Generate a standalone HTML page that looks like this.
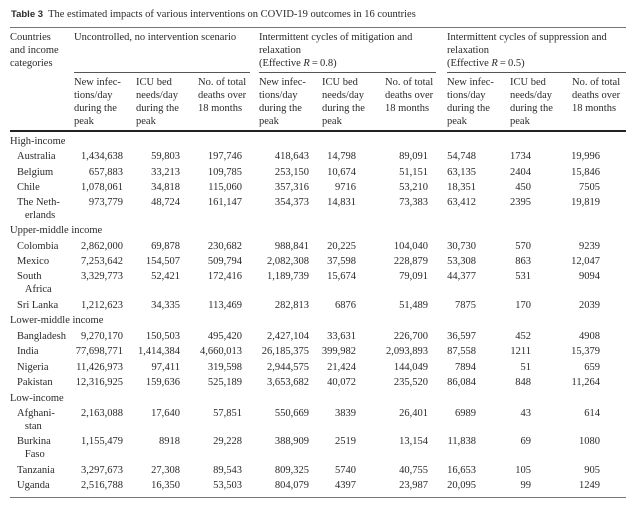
<!DOCTYPE html>
<html><head><meta charset="utf-8"><style>
body{margin:0;background:#fff;}
#p{position:relative;width:640px;height:506px;overflow:hidden;background:#fff;font-family:"Liberation Serif",serif;font-size:10.5px;color:#2a2a2a;}
#p div{position:absolute;white-space:nowrap;line-height:13px;}
.n{width:80px;text-align:right;}
.r{position:absolute;background:#555;}
</style></head><body><div id="p">
<div style="left:11px;top:8px;font-size:10.5px"><b style="font-family:'Liberation Sans',sans-serif;font-size:9.5px">Table 3</b>&nbsp; The estimated impacts of various interventions on COVID-19 outcomes in 16 countries</div>
<span class="r" style="left:10px;top:27px;width:616px;height:1px;background:#777"></span>
<div style="left:10px;top:31px">Countries<br>and income<br>categories</div>
<div style="left:74px;top:31px">Uncontrolled, no intervention scenario</div>
<div style="left:259px;top:31px">Intermittent cycles of mitigation and<br>relaxation<br>(Effective <i>R</i>&thinsp;=&thinsp;0.8)</div>
<div style="left:447px;top:31px">Intermittent cycles of suppression and<br>relaxation<br>(Effective <i>R</i>&thinsp;=&thinsp;0.5)</div>
<span class="r" style="left:74px;top:72px;width:176px;height:1px"></span>
<span class="r" style="left:259px;top:72px;width:177px;height:1px"></span>
<span class="r" style="left:447px;top:72px;width:179px;height:1px"></span>
<div style="left:74px;top:76px">New infec-<br>tions/day<br>during the<br>peak</div>
<div style="left:136px;top:76px">ICU bed<br>needs/day<br>during the<br>peak</div>
<div style="left:198px;top:76px">No. of total<br>deaths over<br>18 months</div>
<div style="left:259px;top:76px">New infec-<br>tions/day<br>during the<br>peak</div>
<div style="left:322px;top:76px">ICU bed<br>needs/day<br>during the<br>peak</div>
<div style="left:385px;top:76px">No. of total<br>deaths over<br>18 months</div>
<div style="left:447px;top:76px">New infec-<br>tions/day<br>during the<br>peak</div>
<div style="left:510px;top:76px">ICU bed<br>needs/day<br>during the<br>peak</div>
<div style="left:572px;top:76px">No. of total<br>deaths over<br>18 months</div>
<span class="r" style="left:10px;top:130px;width:616px;height:2px;background:#222"></span>
<span class="r" style="left:10px;top:497px;width:616px;height:1px;background:#777"></span>

<div style="left:10px;top:135px">High-income</div>
<div style="left:10px;top:224px">Upper-middle income</div>
<div style="left:10px;top:314px">Lower-middle income</div>
<div style="left:10px;top:392px">Low-income</div>

<div style="left:17px;top:150px">Australia</div><div class="n" style="left:43px;top:150px">1,434,638</div><div class="n" style="left:100px;top:150px">59,803</div><div class="n" style="left:162px;top:150px">197,746</div><div class="n" style="left:229px;top:150px">418,643</div><div class="n" style="left:276px;top:150px">14,798</div><div class="n" style="left:348px;top:150px">89,091</div><div class="n" style="left:396px;top:150px">54,748</div><div class="n" style="left:451px;top:150px">1734</div><div class="n" style="left:520px;top:150px">19,996</div>
<div style="left:17px;top:166px">Belgium</div><div class="n" style="left:43px;top:166px">657,883</div><div class="n" style="left:100px;top:166px">33,213</div><div class="n" style="left:162px;top:166px">109,785</div><div class="n" style="left:229px;top:166px">253,150</div><div class="n" style="left:276px;top:166px">10,674</div><div class="n" style="left:348px;top:166px">51,151</div><div class="n" style="left:396px;top:166px">63,135</div><div class="n" style="left:451px;top:166px">2404</div><div class="n" style="left:520px;top:166px">15,846</div>
<div style="left:17px;top:181px">Chile</div><div class="n" style="left:43px;top:181px">1,078,061</div><div class="n" style="left:100px;top:181px">34,818</div><div class="n" style="left:162px;top:181px">115,060</div><div class="n" style="left:229px;top:181px">357,316</div><div class="n" style="left:276px;top:181px">9716</div><div class="n" style="left:348px;top:181px">53,210</div><div class="n" style="left:396px;top:181px">18,351</div><div class="n" style="left:451px;top:181px">450</div><div class="n" style="left:520px;top:181px">7505</div>
<div style="left:17px;top:196px">The Neth-<br>&nbsp;&nbsp;&nbsp;erlands</div><div class="n" style="left:43px;top:196px">973,779</div><div class="n" style="left:100px;top:196px">48,724</div><div class="n" style="left:162px;top:196px">161,147</div><div class="n" style="left:229px;top:196px">354,373</div><div class="n" style="left:276px;top:196px">14,831</div><div class="n" style="left:348px;top:196px">73,383</div><div class="n" style="left:396px;top:196px">63,412</div><div class="n" style="left:451px;top:196px">2395</div><div class="n" style="left:520px;top:196px">19,819</div>

<div style="left:17px;top:240px">Colombia</div><div class="n" style="left:43px;top:240px">2,862,000</div><div class="n" style="left:100px;top:240px">69,878</div><div class="n" style="left:162px;top:240px">230,682</div><div class="n" style="left:229px;top:240px">988,841</div><div class="n" style="left:276px;top:240px">20,225</div><div class="n" style="left:348px;top:240px">104,040</div><div class="n" style="left:396px;top:240px">30,730</div><div class="n" style="left:451px;top:240px">570</div><div class="n" style="left:520px;top:240px">9239</div>
<div style="left:17px;top:255px">Mexico</div><div class="n" style="left:43px;top:255px">7,253,642</div><div class="n" style="left:100px;top:255px">154,507</div><div class="n" style="left:162px;top:255px">509,794</div><div class="n" style="left:229px;top:255px">2,082,308</div><div class="n" style="left:276px;top:255px">37,598</div><div class="n" style="left:348px;top:255px">228,879</div><div class="n" style="left:396px;top:255px">53,308</div><div class="n" style="left:451px;top:255px">863</div><div class="n" style="left:520px;top:255px">12,047</div>
<div style="left:17px;top:270px">South<br>&nbsp;&nbsp;&nbsp;Africa</div><div class="n" style="left:43px;top:270px">3,329,773</div><div class="n" style="left:100px;top:270px">52,421</div><div class="n" style="left:162px;top:270px">172,416</div><div class="n" style="left:229px;top:270px">1,189,739</div><div class="n" style="left:276px;top:270px">15,674</div><div class="n" style="left:348px;top:270px">79,091</div><div class="n" style="left:396px;top:270px">44,377</div><div class="n" style="left:451px;top:270px">531</div><div class="n" style="left:520px;top:270px">9094</div>
<div style="left:17px;top:299px">Sri Lanka</div><div class="n" style="left:43px;top:299px">1,212,623</div><div class="n" style="left:100px;top:299px">34,335</div><div class="n" style="left:162px;top:299px">113,469</div><div class="n" style="left:229px;top:299px">282,813</div><div class="n" style="left:276px;top:299px">6876</div><div class="n" style="left:348px;top:299px">51,489</div><div class="n" style="left:396px;top:299px">7875</div><div class="n" style="left:451px;top:299px">170</div><div class="n" style="left:520px;top:299px">2039</div>

<div style="left:17px;top:330px">Bangladesh</div><div class="n" style="left:43px;top:330px">9,270,170</div><div class="n" style="left:100px;top:330px">150,503</div><div class="n" style="left:162px;top:330px">495,420</div><div class="n" style="left:229px;top:330px">2,427,104</div><div class="n" style="left:276px;top:330px">33,631</div><div class="n" style="left:348px;top:330px">226,700</div><div class="n" style="left:396px;top:330px">36,597</div><div class="n" style="left:451px;top:330px">452</div><div class="n" style="left:520px;top:330px">4908</div>
<div style="left:17px;top:345px">India</div><div class="n" style="left:43px;top:345px">77,698,771</div><div class="n" style="left:100px;top:345px">1,414,384</div><div class="n" style="left:162px;top:345px">4,660,013</div><div class="n" style="left:229px;top:345px">26,185,375</div><div class="n" style="left:276px;top:345px">399,982</div><div class="n" style="left:348px;top:345px">2,093,893</div><div class="n" style="left:396px;top:345px">87,558</div><div class="n" style="left:451px;top:345px">1211</div><div class="n" style="left:520px;top:345px">15,379</div>
<div style="left:17px;top:361px">Nigeria</div><div class="n" style="left:43px;top:361px">11,426,973</div><div class="n" style="left:100px;top:361px">97,411</div><div class="n" style="left:162px;top:361px">319,598</div><div class="n" style="left:229px;top:361px">2,944,575</div><div class="n" style="left:276px;top:361px">21,424</div><div class="n" style="left:348px;top:361px">144,049</div><div class="n" style="left:396px;top:361px">7894</div><div class="n" style="left:451px;top:361px">51</div><div class="n" style="left:520px;top:361px">659</div>
<div style="left:17px;top:376px">Pakistan</div><div class="n" style="left:43px;top:376px">12,316,925</div><div class="n" style="left:100px;top:376px">159,636</div><div class="n" style="left:162px;top:376px">525,189</div><div class="n" style="left:229px;top:376px">3,653,682</div><div class="n" style="left:276px;top:376px">40,072</div><div class="n" style="left:348px;top:376px">235,520</div><div class="n" style="left:396px;top:376px">86,084</div><div class="n" style="left:451px;top:376px">848</div><div class="n" style="left:520px;top:376px">11,264</div>

<div style="left:17px;top:407px">Afghani-<br>&nbsp;&nbsp;&nbsp;stan</div><div class="n" style="left:43px;top:407px">2,163,088</div><div class="n" style="left:100px;top:407px">17,640</div><div class="n" style="left:162px;top:407px">57,851</div><div class="n" style="left:229px;top:407px">550,669</div><div class="n" style="left:276px;top:407px">3839</div><div class="n" style="left:348px;top:407px">26,401</div><div class="n" style="left:396px;top:407px">6989</div><div class="n" style="left:451px;top:407px">43</div><div class="n" style="left:520px;top:407px">614</div>
<div style="left:17px;top:435px">Burkina<br>&nbsp;&nbsp;&nbsp;Faso</div><div class="n" style="left:43px;top:435px">1,155,479</div><div class="n" style="left:100px;top:435px">8918</div><div class="n" style="left:162px;top:435px">29,228</div><div class="n" style="left:229px;top:435px">388,909</div><div class="n" style="left:276px;top:435px">2519</div><div class="n" style="left:348px;top:435px">13,154</div><div class="n" style="left:396px;top:435px">11,838</div><div class="n" style="left:451px;top:435px">69</div><div class="n" style="left:520px;top:435px">1080</div>
<div style="left:17px;top:464px">Tanzania</div><div class="n" style="left:43px;top:464px">3,297,673</div><div class="n" style="left:100px;top:464px">27,308</div><div class="n" style="left:162px;top:464px">89,543</div><div class="n" style="left:229px;top:464px">809,325</div><div class="n" style="left:276px;top:464px">5740</div><div class="n" style="left:348px;top:464px">40,755</div><div class="n" style="left:396px;top:464px">16,653</div><div class="n" style="left:451px;top:464px">105</div><div class="n" style="left:520px;top:464px">905</div>
<div style="left:17px;top:479px">Uganda</div><div class="n" style="left:43px;top:479px">2,516,788</div><div class="n" style="left:100px;top:479px">16,350</div><div class="n" style="left:162px;top:479px">53,503</div><div class="n" style="left:229px;top:479px">804,079</div><div class="n" style="left:276px;top:479px">4397</div><div class="n" style="left:348px;top:479px">23,987</div><div class="n" style="left:396px;top:479px">20,095</div><div class="n" style="left:451px;top:479px">99</div><div class="n" style="left:520px;top:479px">1249</div>
</div></body></html>
